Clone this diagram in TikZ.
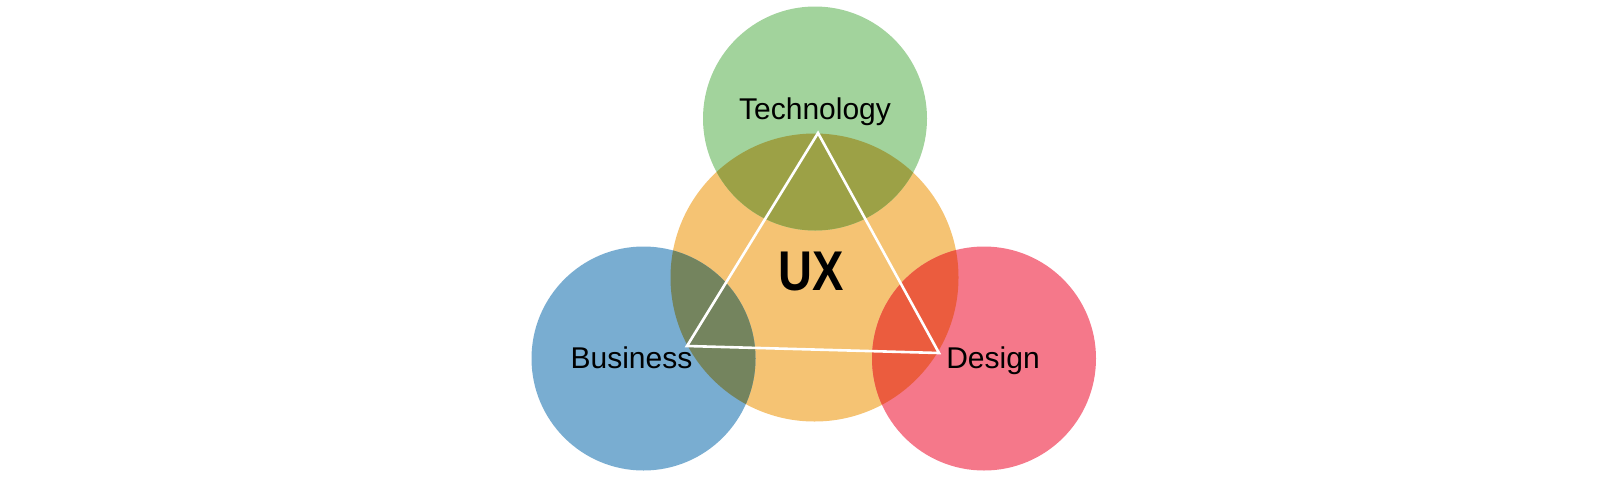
\documentclass[tikz,border=0pt]{standalone}
\usepackage{fontspec}
\setmainfont{Liberation Sans}
\definecolor{uxorange}{HTML}{F5C373}
\definecolor{techgreen}{HTML}{A2D39C}
\definecolor{busblue}{HTML}{79ADD1}
\definecolor{despink}{HTML}{F5788A}
\definecolor{techov}{HTML}{9CA146}
\definecolor{busov}{HTML}{74845E}
\definecolor{desov}{HTML}{EB5C3E}
\begin{document}
\begin{tikzpicture}[x=1pt,y=-1pt,
  lbl/.style={font=\fontsize{30}{30}\selectfont, text=black, inner sep=0pt, anchor=base},
  edge/.style={draw=white, line width=2.6pt, line join=miter}]
\useasboundingbox (0,0) rectangle (1600,480);
% circles
\coordinate (ux) at (814.5,277.5);
\coordinate (tech) at (815,118.5);
\coordinate (bus) at (643.5,358.5);
\coordinate (des) at (984,358.5);
\def\rux{144}
\def\rsm{112}
\fill[uxorange] (ux) circle[radius=\rux];
\fill[techgreen] (tech) circle[radius=\rsm];
\fill[busblue] (bus) circle[radius=\rsm];
\fill[despink] (des) circle[radius=\rsm];
\begin{scope}
  \clip (ux) circle[radius=\rux];
  \fill[techov] (tech) circle[radius=\rsm];
  \fill[busov] (bus) circle[radius=\rsm];
  \fill[desov] (des) circle[radius=\rsm];
\end{scope}
% triangle
\coordinate (ta) at (818,133);
\coordinate (tb) at (687,346);
\coordinate (tc) at (939,353);
\draw[edge] (ta) -- (tb) -- (tc) -- cycle;
% labels
\node[lbl] (ltech) at (815,119) {Technology};
\node[lbl] (lbus) at (631.5,368) {Business};
\node[lbl] (ldes) at (993,368) {Design};
\node[lbl, font=\fontsize{56}{56}\bfseries\selectfont, xscale=0.84] (lux) at (811,290.5) {UX};
\end{tikzpicture}
\end{document}
